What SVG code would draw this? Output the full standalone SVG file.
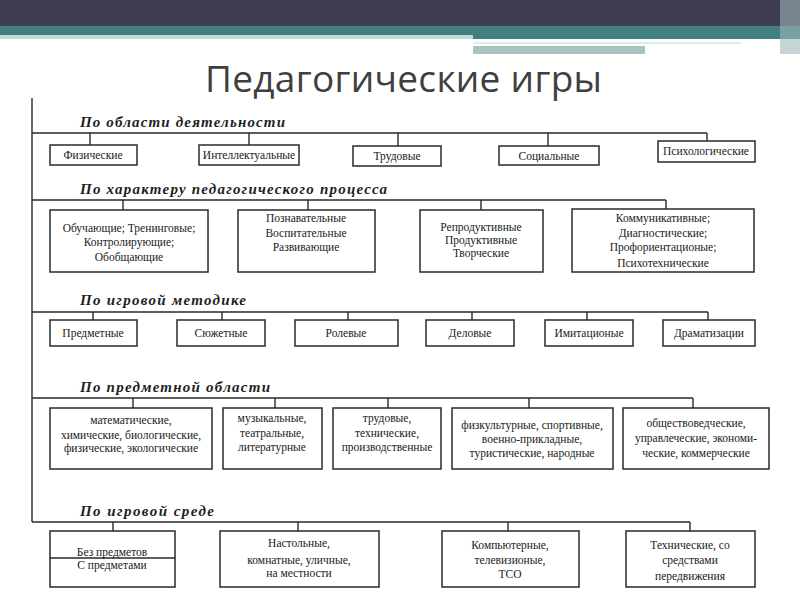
<svg xmlns="http://www.w3.org/2000/svg" width="800" height="600" viewBox="0 0 800 600">
<style>
.ln{stroke:#2a2a2a;stroke-width:1.4;fill:none}
.bx{stroke:#2a2a2a;stroke-width:1.5;fill:#fff}
.t{font-family:"Liberation Serif","DejaVu Serif",serif;font-size:11.5px;fill:#1a1a1a;text-anchor:middle}
.h{font-family:"Liberation Serif","DejaVu Serif",serif;font-size:15px;font-weight:bold;font-style:italic;fill:#1e1e1e}
.title{font-family:"Open Sans","Liberation Sans",sans-serif;font-size:37px;fill:#3f3f3f}
</style>
<rect width="800" height="600" fill="#fff"/>
<g id="header">
<rect x="0" y="0" width="800" height="27" fill="#3e3e50"/>
<rect x="0" y="26" width="473" height="9" fill="#427f80"/>
<rect x="0" y="35" width="473" height="4" fill="#a9c8c8" opacity="0.7"/>
<rect x="473" y="26" width="327" height="13" fill="#427f80"/>
<rect x="473" y="42" width="268" height="2" fill="#d9eeee"/>
<rect x="473" y="46" width="172" height="8" fill="#a8c3c0"/>
<rect x="780" y="0" width="20" height="54" fill="#9fb7b8" opacity="0.6"/>
</g>
<text class="title" x="205" y="92" textLength="397">Педагогические игры</text>
<g id="connectors">
<path class="ln" d="M32 98 V522"/>
<path class="ln" d="M32 133 H707 M90 133 V145 M249 133 V145 M398 133 V146 M548 133 V146 M707 133 V141"/>
<path class="ln" d="M32 200 H666 M123 200 V210 M308 200 V210 M481 200 V210 M666 200 V209"/>
<path class="ln" d="M32 312 H708 M93 312 V320 M222 312 V320 M348 312 V320 M472 312 V320 M587 312 V320 M708 312 V320"/>
<path class="ln" d="M32 398 H693 M133 398 V408 M275 398 V408 M388 398 V408 M529 398 V408 M693 398 V408"/>
<path class="ln" d="M32 522 H690 M113 522 V531 M298 522 V531 M508 522 V531 M690 522 V531"/>
</g>
<g id="headings">
<text class="h" x="80" y="127" textLength="205">По области деятельности</text>
<text class="h" x="80" y="194" textLength="307">По характеру педагогического процесса</text>
<text class="h" x="80" y="305" textLength="166">По игровой методике</text>
<text class="h" x="80" y="392" textLength="190">По предметной области</text>
<text class="h" x="80" y="516" textLength="134">По игровой среде</text>
</g>
<g id="n1a"><rect class="bx" x="50" y="145" width="87" height="20"/><text class="t" x="93" y="159">Физические</text></g>
<g id="n1b"><rect class="bx" x="199" y="145" width="100" height="20"/><text class="t" x="249" y="159">Интеллектуальные</text></g>
<g id="n1c"><rect class="bx" x="353" y="146" width="88" height="20"/><text class="t" x="397" y="160">Трудовые</text></g>
<g id="n1d"><rect class="bx" x="499" y="146" width="100" height="19"/><text class="t" x="549" y="160">Социальные</text></g>
<g id="n1e"><rect class="bx" x="658" y="141" width="97" height="21"/><text class="t" x="706" y="155">Психологические</text></g>
<g id="n2a"><rect class="bx" x="50" y="210" width="158" height="62"/><text class="t" x="129" y="232">Обучающие; Тренинговые;</text><text class="t" x="129" y="246">Контролирующие;</text><text class="t" x="129" y="261">Обобщающие</text></g>
<g id="n2b"><rect class="bx" x="238" y="210" width="137" height="62"/><text class="t" x="306" y="222">Познавательные</text><text class="t" x="306" y="237">Воспитательные</text><text class="t" x="306" y="251">Развивающие</text></g>
<g id="n2c"><rect class="bx" x="420" y="210" width="123" height="62"/><text class="t" x="481" y="231">Репродуктивные</text><text class="t" x="481" y="244">Продуктивные</text><text class="t" x="481" y="257">Творческие</text></g>
<g id="n2d"><rect class="bx" x="572" y="209" width="182" height="63"/><text class="t" x="663" y="222">Коммуникативные;</text><text class="t" x="663" y="237">Диагностические;</text><text class="t" x="663" y="251">Профориентационые;</text><text class="t" x="663" y="267">Психотехнические</text></g>
<g id="n3a"><rect class="bx" x="50" y="320" width="87" height="26"/><text class="t" x="93" y="337">Предметные</text></g>
<g id="n3b"><rect class="bx" x="177" y="320" width="88" height="26"/><text class="t" x="221" y="337">Сюжетные</text></g>
<g id="n3c"><rect class="bx" x="295" y="320" width="103" height="26"/><text class="t" x="346" y="337">Ролевые</text></g>
<g id="n3d"><rect class="bx" x="426" y="320" width="88" height="26"/><text class="t" x="470" y="337">Деловые</text></g>
<g id="n3e"><rect class="bx" x="545" y="320" width="88" height="26"/><text class="t" x="589" y="337">Имитационые</text></g>
<g id="n3f"><rect class="bx" x="663" y="320" width="92" height="26"/><text class="t" x="709" y="337">Драматизации</text></g>
<g id="n4a"><rect class="bx" x="50" y="408" width="162" height="61"/><text class="t" x="131" y="424">математические,</text><text class="t" x="131" y="439">химические, биологические,</text><text class="t" x="131" y="452">физические, экологические</text></g>
<g id="n4b"><rect class="bx" x="223" y="408" width="99" height="61"/><text class="t" x="272" y="422">музыкальные,</text><text class="t" x="272" y="437">театральные,</text><text class="t" x="272" y="451">литературные</text></g>
<g id="n4c"><rect class="bx" x="333" y="408" width="108" height="61"/><text class="t" x="387" y="422">трудовые,</text><text class="t" x="387" y="437">технические,</text><text class="t" x="387" y="451">производственные</text></g>
<g id="n4d"><rect class="bx" x="452" y="408" width="161" height="61"/><text class="t" x="532" y="429">физкультурные, спортивные,</text><text class="t" x="532" y="443">военно-прикладные,</text><text class="t" x="532" y="457">туристические, народные</text></g>
<g id="n4e"><rect class="bx" x="623" y="408" width="146" height="61"/><text class="t" x="696" y="427">обществоведческие,</text><text class="t" x="696" y="442">управлеческие, экономи-</text><text class="t" x="696" y="457">ческие, коммерческие</text></g>
<g id="n5a"><rect class="bx" x="50" y="531" width="125" height="56"/><path class="ln" d="M50 558 H175"/><text class="t" x="112" y="556">Без предметов</text><text class="t" x="112" y="569">С предметами</text></g>
<g id="n5b"><rect class="bx" x="220" y="531" width="159" height="56"/><text class="t" x="299" y="547">Настольные,</text><text class="t" x="299" y="564">комнатные, уличные,</text><text class="t" x="299" y="577">на местности</text></g>
<g id="n5c"><rect class="bx" x="442" y="531" width="137" height="56"/><text class="t" x="510" y="549">Компьютерные,</text><text class="t" x="510" y="564">телевизионые,</text><text class="t" x="510" y="578">ТСО</text></g>
<g id="n5d"><rect class="bx" x="626" y="531" width="129" height="56"/><text class="t" x="690" y="549">Технические, со</text><text class="t" x="690" y="564">средствами</text><text class="t" x="690" y="580">передвижения</text></g>
</svg>
